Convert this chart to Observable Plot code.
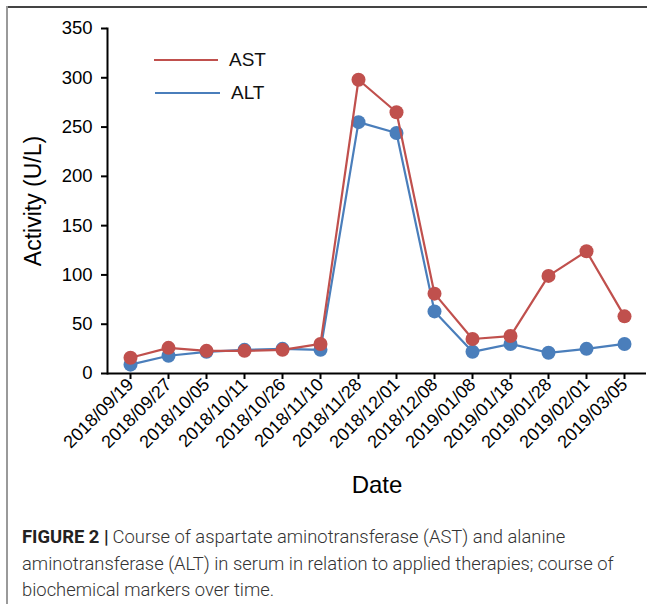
<!DOCTYPE html>
<html>
<head>
<meta charset="utf-8">
<script src="https://cdn.jsdelivr.net/npm/d3@7"></script>
<script src="https://cdn.jsdelivr.net/npm/@observablehq/plot@0.6"></script>
<style>
  html, body { margin: 0; padding: 0; background: #fff; }
  #page { position: relative; width: 654px; height: 604px; overflow: hidden; font-family: "Liberation Sans", Arial, sans-serif; }
  #frameTop { position: absolute; left: 7px; top: 6px; width: 640px; height: 0; border-top: 2px solid #444; }
  #frameLeft { position: absolute; left: 6px; top: 6px; width: 0; height: 600px; border-left: 2px solid #9a9a9a; }
  #chart { position: absolute; left: 0; top: 0; }
  .leg { position: absolute; height: 0; border-top: 2.5px solid; }
  .legt { position: absolute; font-size: 19px; color: #111; line-height: 22px; }
  #caption { position: absolute; left: 22px; top: 524px; width: 630px; white-space: nowrap; font-family: Roboto, "Liberation Sans", sans-serif; font-weight: 300; font-size: 18.4px; line-height: 26.5px; color: #333; }
  #caption .fig { font-weight: 700; color: #222; margin-right: 4px; }
</style>
</head>
<body>
<div id="page">
  <div id="chart"></div>
  <div id="frameTop"></div>
  <div id="frameLeft"></div>
  <div class="leg" style="left:154px; top:59px; width:64px; border-color:#C0504D;"></div>
  <div class="legt" style="left:229px; top:49px;">AST</div>
  <div class="leg" style="left:155px; top:92px; width:65px; border-color:#4A7EBB;"></div>
  <div class="legt" style="left:231px; top:82px;">ALT</div>
  <div id="caption"><span class="fig">FIGURE 2 |</span>Course of aspartate aminotransferase (AST) and alanine<br>aminotransferase (ALT) in serum in relation to applied therapies; course of<br>biochemical markers over time.</div>
</div>
<script>
const dates = ["2018/09/19","2018/09/27","2018/10/05","2018/10/11","2018/10/26","2018/11/10","2018/11/28","2018/12/01","2018/12/08","2019/01/08","2019/01/18","2019/01/28","2019/02/01","2019/03/05"];
const ast = [16, 26, 23, 23, 24, 30, 298, 265, 81, 35, 38, 99, 124, 58];
const alt = [9, 18, 22, 24, 25, 24, 255, 244, 63, 22, 30, 21, 25, 30];
const yTicks = [0, 50, 100, 150, 200, 250, 300, 350];

const red = "#C0504D";
const blue = "#4A7EBB";
const astData = dates.map((d, i) => ({date: d, value: ast[i]}));
const altData = dates.map((d, i) => ({date: d, value: alt[i]}));

const chart = Plot.plot({
  width: 654,
  height: 510,
  marginLeft: 107,
  marginRight: 8,
  marginTop: 28,
  marginBottom: 137,
  style: {fontFamily: "'Liberation Sans', Arial, sans-serif", fontSize: "17px", color: "#000", background: "transparent"},
  x: {type: "point", domain: dates, padding: 0.5, label: null},
  y: {domain: [0, 350], label: null},
  marks: [
    Plot.frame({anchor: "left", stroke: "#000", strokeWidth: 2}),
    Plot.ruleY([0], {stroke: "#000", strokeWidth: 2}),
    Plot.axisY({ticks: yTicks, tickSize: 6, tickPadding: 9, fontSize: 18.5, label: null, strokeWidth: 2}),
    Plot.axisX({tickSize: 6, tickPadding: 2, tickRotate: -45, fontSize: 18, label: null, strokeWidth: 2}),
    Plot.line(altData, {x: "date", y: "value", stroke: blue, strokeWidth: 2.2}),
    Plot.dot(altData, {x: "date", y: "value", r: 7, fill: blue, stroke: "none"}),
    Plot.line(astData, {x: "date", y: "value", stroke: red, strokeWidth: 2.2}),
    Plot.dot(astData, {x: "date", y: "value", r: 7, fill: red, stroke: "none"}),
    Plot.text(["Activity (U/L)"], {frameAnchor: "left", textAnchor: "middle", rotate: -90, dx: -74, fontSize: 23, fill: "#000"}),
    Plot.text(["Date"], {frameAnchor: "bottom", textAnchor: "middle", dy: 119, fontSize: 24, fill: "#000"})
  ]
});
// enforce tick label sizes
chart.querySelectorAll("text").forEach(t => {
  const s = t.textContent.trim();
  if (dates.includes(s)) t.style.fontSize = "18px";
  else if (yTicks.map(String).includes(s)) t.style.fontSize = "18.5px";
});
document.getElementById("chart").appendChild(chart);
</script>
</body>
</html>
